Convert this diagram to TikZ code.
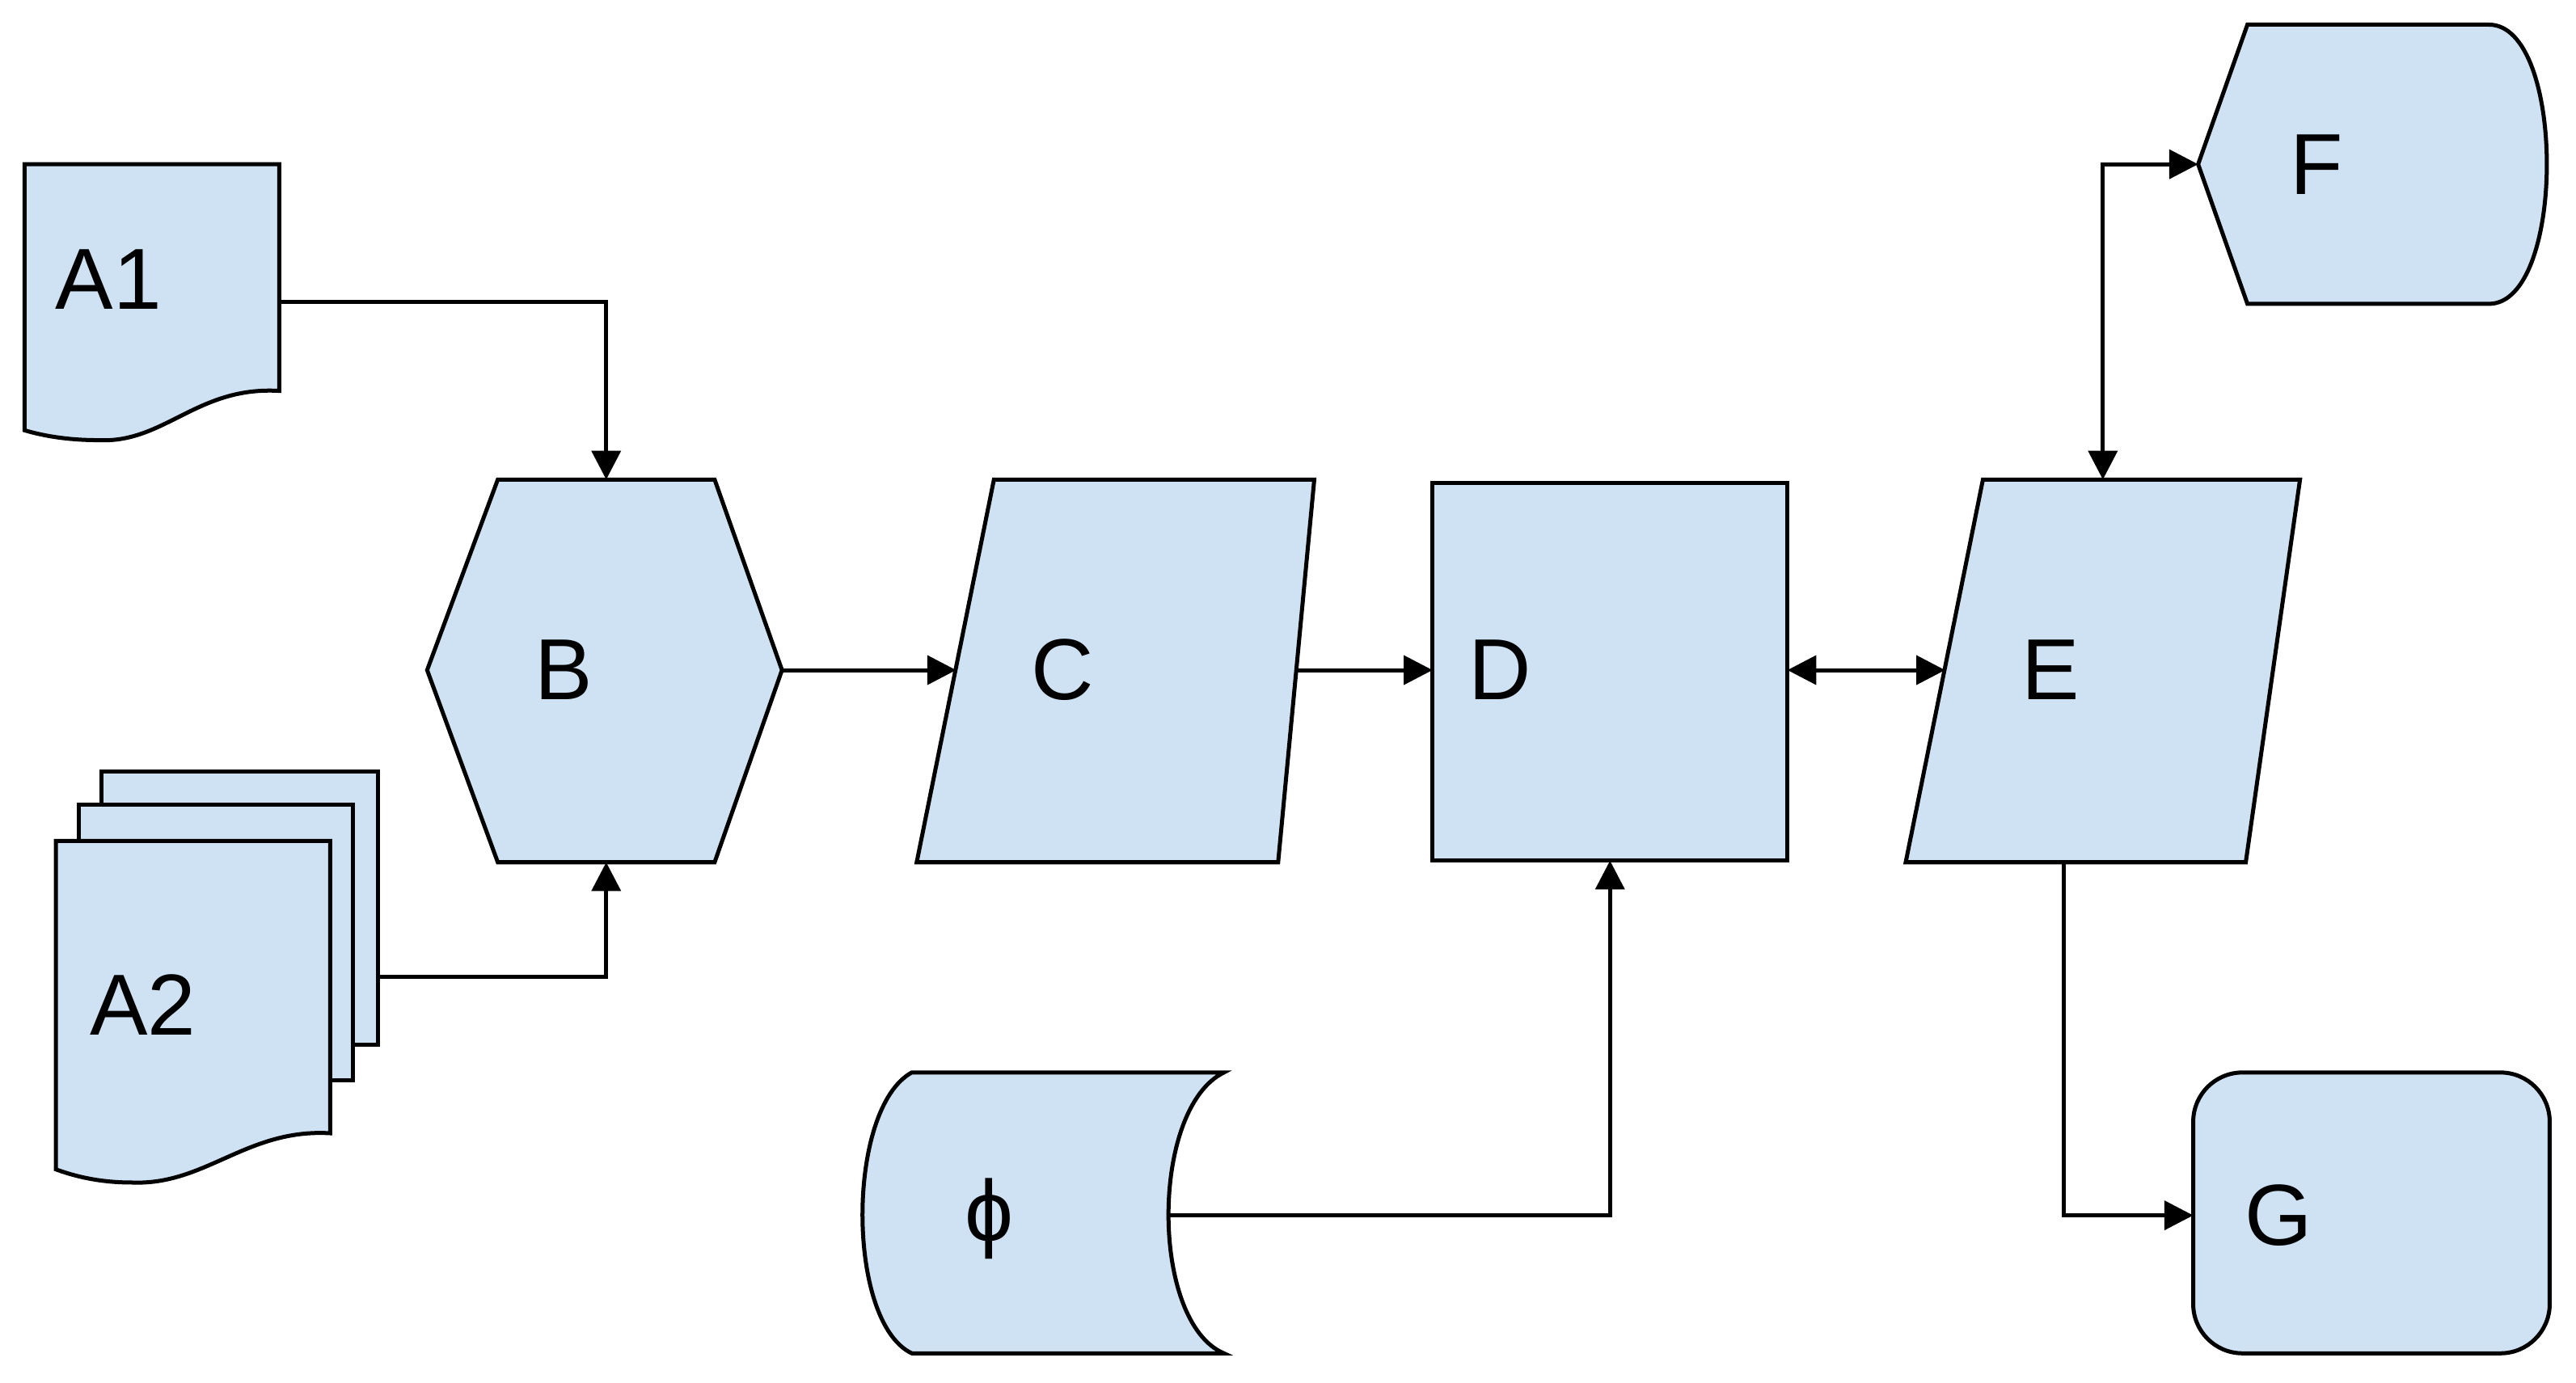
\documentclass[tikz,border=0pt]{standalone}
\usepackage{fontspec}
\setmainfont{Liberation Sans}
\usetikzlibrary{arrows.meta}
\definecolor{fillb}{HTML}{CFE2F3}
\begin{document}
\begin{tikzpicture}[x=0.01cm,y=-0.01cm,
  shp/.style={draw=black,fill=fillb,line width=0.7pt,line join=miter},
  lbl/.style={font=\fontsize{15}{17}\selectfont,inner sep=0pt},
  con/.style={draw=black,line width=0.7pt,-{Triangle[length=5pt,width=5pt]}},
  bcon/.style={draw=black,line width=0.7pt,{Triangle[length=5pt,width=5pt]}-{Triangle[length=5pt,width=5pt]}}]
\useasboundingbox (0,0) rectangle (1568,842);
% A1
\path[shp] (15,100)--(170,100)--(170,238) .. controls (120,235) and (100,270) .. (60,268) .. controls (40,268) and (25,265) .. (15,262) -- cycle;
\node[lbl] (a1) at (66,170) {A1};
\coordinate (a1r) at (170,184);
% A2
\path[shp] (62,470)--(230,470)--(230,636)--(62,636)--cycle;
\path[shp] (48,490)--(215,490)--(215,658)--(48,658)--cycle;
\path[shp] (34,512)--(201,512)--(201,690) .. controls (150,687) and (125,722) .. (80,720) .. controls (60,720) and (45,716) .. (34,712) -- cycle;
\node[lbl] (a2) at (87,612) {A2};
\coordinate (a2r) at (230,595);
% B
\path[shp] (303,292)--(435,292)--(476,408)--(435,525)--(303,525)--(260,408)--cycle;
\node[lbl] (b) at (343,408) {B};
\coordinate (bt) at (369,292); \coordinate (bb) at (369,525); \coordinate (br) at (476,408);
% C
\path[shp] (605,292)--(800,292)--(778,525)--(558,525)--cycle;
\node[lbl] (c) at (647,408) {C};
\coordinate (cl) at (582,408); \coordinate (cr) at (789,408);
% D
\path[shp] (872,294) rectangle (1088,524);
\node[lbl] (d) at (913,408) {D};
\coordinate (dl) at (872,408); \coordinate (dr) at (1088,408); \coordinate (db) at (980,524);
% E
\path[shp] (1207,292)--(1400,292)--(1367,525)--(1160,525)--cycle;
\node[lbl] (e) at (1248,408) {E};
\coordinate (el) at (1184,408); \coordinate (et) at (1280,292); \coordinate (eb) at (1256,525);
% F
\path[shp] (1338,100)--(1368,15)--(1515,15) .. controls (1562,15) and (1562,185) .. (1515,185) -- (1368,185) -- cycle;
\node[lbl] (f) at (1410,100) {F};
\coordinate (fl) at (1338,100);
% G
\path[shp,rounded corners=0.3cm] (1335,653) rectangle (1552,824);
\node[lbl] (g) at (1387,740) {G};
\coordinate (gl) at (1335,740);
% phi
\path[shp] (555,653) -- (745,653) .. controls (700,675) and (700,805) .. (745,824) -- (555,824) .. controls (515,805) and (515,675) .. (555,653) -- cycle;
\node[lbl] (p) at (602,742) {ϕ};
\coordinate (pr) at (710,740);
% connectors
\draw[con] (a1r) -| (bt);
\draw[con] (a2r) -| (bb);
\draw[con] (br) -- (cl);
\draw[con] (cr) -- (dl);
\draw[bcon] (dr) -- (el);
\draw[bcon] (et) |- (fl);
\draw[con] (eb) |- (gl);
\draw[con] (pr) -| (db);
\end{tikzpicture}
\end{document}
